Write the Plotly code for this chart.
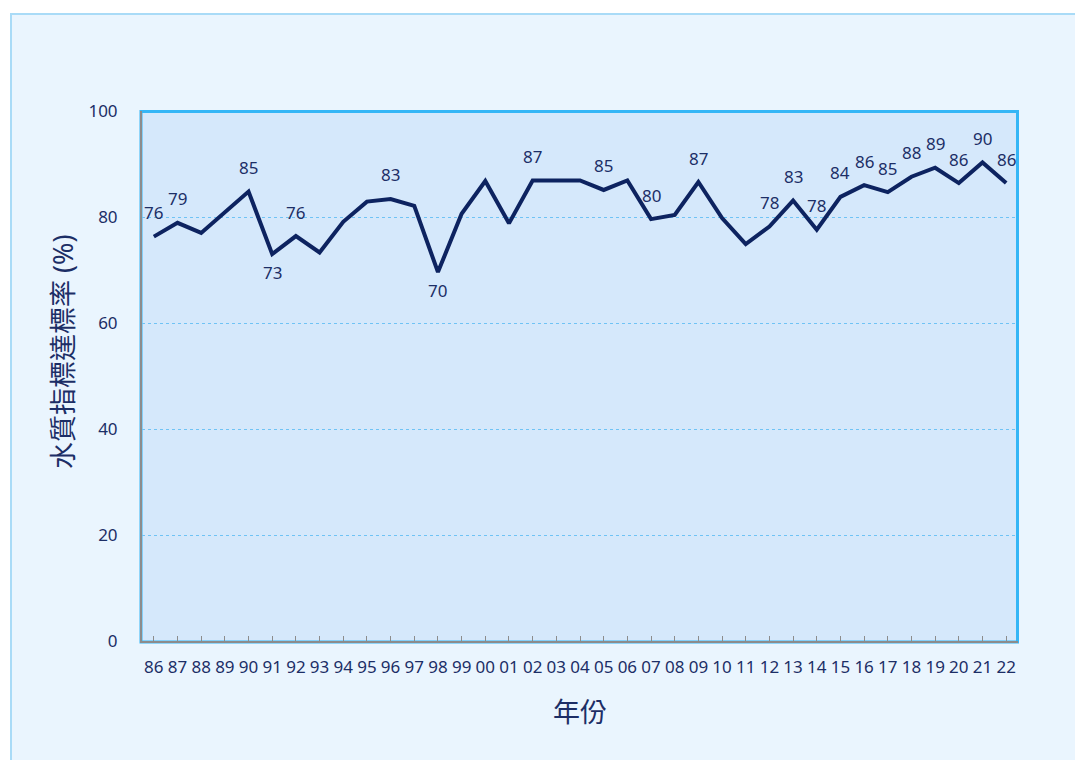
import plotly.graph_objects as go

# ---- data ----
years = ["86", "87", "88", "89", "90", "91", "92", "93", "94", "95", "96", "97", "98", "99",
         "00", "01", "02", "03", "04", "05", "06", "07", "08", "09", "10", "11", "12", "13",
         "14", "15", "16", "17", "18", "19", "20", "21", "22"]
rates = [76.3, 78.9, 77.0, 81.0, 84.8, 73.0, 76.4, 73.3, 79.1, 82.9, 83.4, 82.1, 69.6, 80.6,
         86.8, 78.8, 86.9, 86.9, 86.9, 85.1, 86.9, 79.6, 80.4, 86.6, 79.8, 74.9, 78.2, 83.1,
         77.6, 83.8, 86.0, 84.7, 87.6, 89.3, 86.4, 90.3, 86.4]
labeled_years = ["86", "87", "90", "91", "92", "96", "98", "02", "05", "07", "09", "12", "13",
                 "14", "15", "16", "17", "18", "19", "20", "21", "22"]
below_years = ["91", "98"]
y_ticks = [0, 20, 40, 60, 80, 100]
x_title = "年份"
y_title = "水質指標達標率 (%)"

# ---- style ----
NAVY = "#0d2360"
TEXT = "#1c2e66"
FONT = "Noto Sans, Noto Sans CJK TC, sans-serif"

fig = go.Figure()
fig.add_trace(go.Scatter(
    x=years, y=rates, mode="lines",
    line=dict(color=NAVY, width=4),
    hoverinfo="x+y", showlegend=False,
))

annotations = []
for i, (yr, v) in enumerate(zip(years, rates)):
    if yr in labeled_years:
        below = yr in below_years
        annotations.append(dict(
            x=i, y=v, xref="x", yref="y", text=str(int(round(v))),
            showarrow=False, yshift=-18 if below else 24,
            font=dict(size=17, color=TEXT, family=FONT),
        ))

# page offset (body margin 8px) -> figure pixel coords
OFF = 8
W, H = 1083 - 2 * OFF, 760 - OFF
L, R, T = 142 - OFF, 1083 - OFF - 1018, 111 - OFF
B = H - (641 - OFF)
pw, ph = W - L - R, H - T - B
def px(x):
    return (x - OFF - L) / pw
def py(y):
    return (H - B - (y - OFF)) / ph

# y-axis title as rotated annotation (placed like the original)
annotations.append(dict(
    x=px(62), y=py(352), xref="paper", yref="paper", text=y_title,
    textangle=-90, showarrow=False, xanchor="center", yanchor="middle",
    font=dict(size=27, color=TEXT, family=FONT),
))

shapes = [
    # card
    dict(type="rect", xref="paper", yref="paper", x0=px(11), x1=px(1095), y0=py(790), y1=py(14),
         fillcolor="#eaf5fe", line=dict(color="#a9dbf7", width=2), layer="below"),
    # plot background
    dict(type="rect", xref="paper", yref="paper", x0=0, x1=1, y0=0, y1=1,
         fillcolor="#d5e8fb", line=dict(width=0), layer="below"),
    # blue frame
    dict(type="rect", xref="paper", yref="paper", x0=px(141), x1=px(1017.5), y0=py(642), y1=py(111.5),
         fillcolor="rgba(0,0,0,0)", line=dict(color="#35b6f6", width=3), layer="below"),
]

fig.update_layout(
    width=W, height=H,
    margin=dict(l=L, r=R, t=T, b=B),
    paper_bgcolor="white",
    plot_bgcolor="rgba(0,0,0,0)",
    font=dict(family=FONT, color=TEXT, size=17),
    shapes=shapes,
    annotations=annotations,
    xaxis=dict(
        type="category", range=[-0.5, len(years) - 0.5],
        showgrid=False, zeroline=False,
        showline=True, linecolor="#8c8c8c", linewidth=2,
        ticks="inside", ticklen=5, tickwidth=1, tickcolor="#8c8c8c",
        tickfont=dict(size=17, color=TEXT),
        ticklabelstandoff=10,
        title=dict(text=x_title, font=dict(size=27, color=TEXT), standoff=26),
        fixedrange=True,
    ),
    yaxis=dict(
        range=[0, 100], tickvals=y_ticks,
        showgrid=True, gridcolor="#6fc3f5", griddash="dot", gridwidth=1,
        zeroline=False,
        showline=True, linecolor="#8c8c8c", linewidth=2,
        ticks="", tickfont=dict(size=17, color=TEXT),
        ticklabelstandoff=19,
        fixedrange=True,
    ),
)

fig.write_html("out.html")
